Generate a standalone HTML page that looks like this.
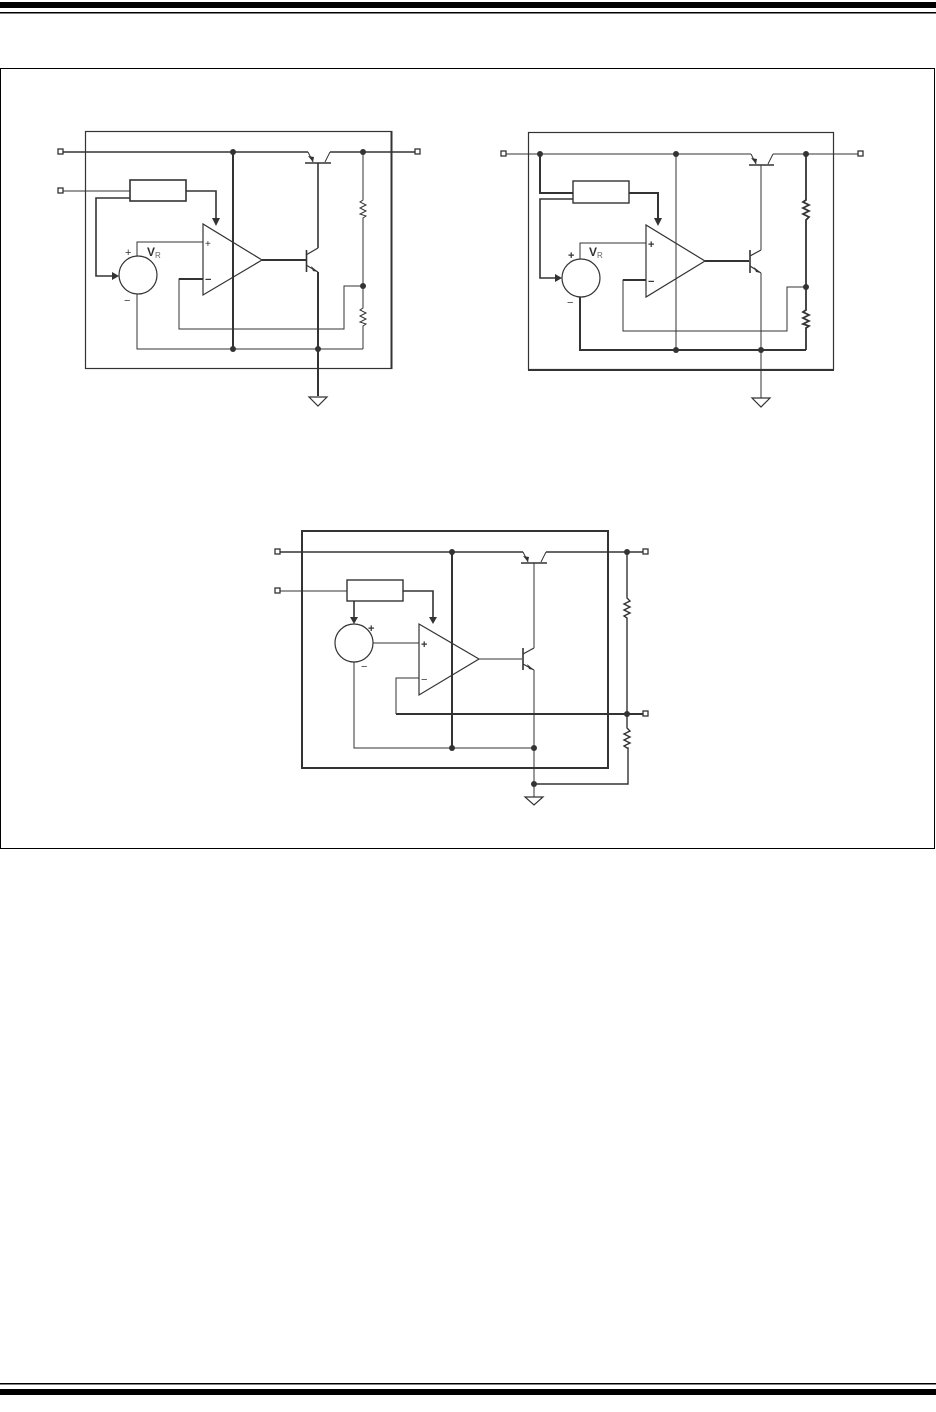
<!DOCTYPE html>
<html><head><meta charset="utf-8"><style>
html,body{margin:0;padding:0;background:#fff;}
svg{display:block;font-family:"Liberation Sans",sans-serif;}
</style></head><body>
<svg width="936" height="1412" viewBox="0 0 936 1412" xmlns="http://www.w3.org/2000/svg">
<rect x="0" y="2" width="936" height="6" fill="#000"/>
<rect x="0" y="12" width="936" height="1.5" fill="#000"/>
<rect x="0" y="1383" width="936" height="1.5" fill="#000"/>
<rect x="0" y="1389" width="936" height="6" fill="#000"/>
<rect x="0.5" y="68.5" width="934" height="780" fill="none" stroke="#000" stroke-width="1"/>

<g stroke="#333" fill="none" stroke-width="1">
<!-- ===== Circuit 1 ===== -->
<rect x="85.5" y="131.5" width="306" height="237" stroke-width="1.2"/>
<line x1="391.5" y1="131" x2="391.5" y2="369" stroke-width="2"/>
<line x1="63" y1="152" x2="308" y2="152" stroke-width="1.6"/>
<line x1="330" y1="152" x2="415" y2="152" stroke-width="1.6"/>
<line x1="308" y1="152" x2="313" y2="162"/>
<line x1="330" y1="152" x2="325" y2="162"/>
<line x1="305" y1="163" x2="331" y2="163" stroke-width="1.6"/>
<line x1="318" y1="163" x2="318" y2="248" stroke-width="1.6"/>
<line x1="63" y1="191" x2="130" y2="191"/>
<rect x="130" y="180" width="56" height="21" stroke-width="1.6"/>
<polyline points="186,191 216,191 216,220" stroke-width="1.6"/>
<polyline points="130,198 96,198 96,276 114,276" stroke-width="1.6"/>
<circle cx="138" cy="275" r="19" stroke-width="1.2"/>
<polygon points="203,224 203,295 262,260" stroke-width="1.2"/>
<polyline points="137,256 137,242 203,242"/>
<polyline points="203,279 179,279 179,329 344,329 344,286 363,286"/>
<line x1="179" y1="279" x2="203" y2="279" stroke-width="2"/>
<line x1="233" y1="152" x2="233" y2="349" stroke-width="2"/>
<polyline points="137,294 137,349 363,349"/>
<line x1="262" y1="260" x2="306" y2="260" stroke-width="2"/>
<line x1="306.5" y1="250" x2="306.5" y2="272" stroke-width="1.6"/>
<line x1="306" y1="255" x2="318" y2="248" stroke-width="1.2"/>
<line x1="306" y1="265" x2="318" y2="272" stroke-width="1.2"/>
<line x1="318" y1="272" x2="318" y2="396" stroke-width="2"/>
<polyline points="363,152 363,200 360,202 366,205 360,208 366,211 360,214 366,216 363,218 363,308 360,310 366,313 360,316 366,319 360,322 366,324 363,326 363,349"/>
<polygon points="309,397 327,397 318,406" stroke-width="1.2"/>

<!-- ===== Circuit 2 ===== -->
<rect x="528.5" y="132.5" width="305" height="237" stroke-width="1.2"/>
<line x1="528" y1="370" x2="834" y2="370" stroke-width="2"/>
<line x1="506" y1="154" x2="751" y2="154"/>
<line x1="773" y1="154" x2="858" y2="154"/>
<line x1="751" y1="154" x2="756" y2="164"/>
<line x1="773" y1="154" x2="768" y2="164"/>
<line x1="749" y1="165" x2="774" y2="165" stroke-width="1.4"/>
<line x1="761" y1="165" x2="761" y2="250"/>
<polyline points="540,154 540,193 573,193" stroke-width="2"/>
<polyline points="573,199 540,199 540,278 557,278" stroke-width="1.6"/>
<rect x="573" y="181" width="56" height="22" stroke-width="1.4"/>
<polyline points="629,193 658,193 658,221" stroke-width="2"/>
<circle cx="581" cy="278" r="19" stroke-width="1.2"/>
<polygon points="646,225 646,297 705,261" stroke-width="1.2"/>
<polyline points="580,259 580,243 646,243"/>
<polyline points="646,280 623,280 623,331 787,331 787,287 806,287"/>
<line x1="623" y1="280" x2="646" y2="280" stroke-width="2"/>
<line x1="676" y1="154" x2="676" y2="350"/>
<polyline points="580,297 580,350 806,350" stroke-width="2"/>
<line x1="705" y1="261" x2="749" y2="261" stroke-width="2"/>
<line x1="750" y1="250" x2="750" y2="273" stroke-width="1.6"/>
<line x1="750" y1="256" x2="761" y2="250" stroke-width="1.2"/>
<line x1="750" y1="266" x2="761" y2="273" stroke-width="1.2"/>
<line x1="761" y1="273" x2="761" y2="398"/>
<polyline points="806,154 806,200 803,202 809,205 803,208 809,211 803,214 809,217 806,220 806,310 803,312 809,315 803,318 809,321 803,324 809,326 806,328 806,350" stroke-width="1.8"/>
<polygon points="752,398 770,398 761,407" stroke-width="1.2"/>

<!-- ===== Circuit 3 ===== -->
<rect x="302" y="531" width="306" height="237" stroke-width="2"/>
<line x1="280" y1="552" x2="523" y2="552" stroke-width="1.6"/>
<line x1="546" y1="552" x2="643" y2="552" stroke-width="1.6"/>
<line x1="523" y1="552" x2="528" y2="562"/>
<line x1="546" y1="552" x2="541" y2="562"/>
<line x1="521" y1="563" x2="547" y2="563" stroke-width="1.4"/>
<line x1="534" y1="563" x2="534" y2="648"/>
<line x1="280" y1="591" x2="347" y2="591"/>
<rect x="347" y="580" width="56" height="21" stroke-width="1.4"/>
<line x1="354" y1="601" x2="354" y2="619" stroke-width="1.6"/>
<polyline points="403,591 433,591 433,620" stroke-width="1.6"/>
<circle cx="354" cy="643" r="19" stroke-width="1.2"/>
<polygon points="419,624 419,695 479,659" stroke-width="1.2"/>
<line x1="373" y1="643" x2="419" y2="643"/>
<polyline points="419,678 396,678 396,714"/>
<line x1="396" y1="714" x2="643" y2="714" stroke-width="2"/>
<line x1="452" y1="552" x2="452" y2="748" stroke-width="2"/>
<polyline points="354,662 354,748 534,748"/>
<line x1="479" y1="659" x2="522" y2="659"/>
<line x1="523" y1="648" x2="523" y2="670" stroke-width="1.6"/>
<line x1="523" y1="654" x2="534" y2="648" stroke-width="1.2"/>
<line x1="523" y1="664" x2="534" y2="670" stroke-width="1.2"/>
<line x1="534" y1="670" x2="534" y2="797"/>
<polyline points="534,784 628,784 628,748 627,748 624,746 630,743 624,740 630,737 624,734 630,731 627,728 627,618 624,616 630,613 624,610 630,607 624,604 630,601 627,598 627,552" stroke-width="1.4"/>
<polygon points="525,797 543,797 534,805" stroke-width="1.2"/>
</g>

<!-- terminals -->
<g fill="#fff" stroke="#333" stroke-width="1.3">
<rect x="58" y="149" width="5" height="5"/><rect x="415" y="149" width="5" height="5"/><rect x="58" y="188" width="5" height="5"/>
<rect x="501" y="151" width="5" height="5"/><rect x="858" y="151" width="5" height="5"/>
<rect x="275" y="549" width="5" height="5"/><rect x="643" y="549" width="5" height="5"/><rect x="275" y="588" width="5" height="5"/><rect x="643" y="711" width="5" height="5"/>
</g>
<!-- dots -->
<g fill="#333">
<circle cx="233" cy="152" r="3"/><circle cx="363" cy="152" r="3"/><circle cx="363" cy="286" r="3"/><circle cx="233" cy="349" r="3"/><circle cx="318" cy="349" r="3"/>
<circle cx="540" cy="154" r="3"/><circle cx="676" cy="154" r="3"/><circle cx="806" cy="154" r="3"/><circle cx="806" cy="287" r="3"/><circle cx="676" cy="350" r="3"/><circle cx="761" cy="350" r="3"/>
<circle cx="452" cy="552" r="3"/><circle cx="627" cy="552" r="3"/><circle cx="627" cy="714" r="3"/><circle cx="452" cy="748" r="3"/><circle cx="534" cy="748" r="3"/><circle cx="534" cy="784" r="3"/>
<!-- arrowheads -->
<polygon points="212,218 220,218 216,226"/><polygon points="112,272 119,276 112,280"/>
<polygon points="313,162 308,156 314,157"/>
<polygon points="318,272 311,266 313,271"/>
<polygon points="654,218 662,218 658,226"/><polygon points="555,274 562,278 555,282"/>
<polygon points="756,164 751,158 757,159"/><polygon points="761,273 754,267 756,272"/>
<polygon points="350,617 358,617 354,624"/><polygon points="429,617 437,617 433,624"/>
<polygon points="528,562 523,556 529,557"/><polygon points="534,670 527,664 529,669"/>
</g>
<g fill="#333" font-size="11">
<text x="125" y="256">+</text><text x="124" y="304">−</text>
<text x="147" y="256" font-weight="bold" font-size="12">V</text><text x="155" y="258" font-size="8" fill="#666">R</text>
<text x="205" y="247" font-size="10">+</text><text x="205" y="283" font-weight="bold" font-size="11">−</text>
<text x="568" y="259" font-weight="bold">+</text><text x="567" y="306">−</text>
<text x="589" y="256" font-weight="bold" font-size="12">V</text><text x="597" y="258" font-size="8" fill="#666">R</text>
<text x="648" y="248" font-weight="bold">+</text><text x="648" y="285" font-weight="bold">−</text>
<text x="368" y="632" font-weight="bold">+</text><text x="361" y="670">−</text>
<text x="421" y="648" font-weight="bold">+</text><text x="421" y="683">−</text>
</g>
</svg>
</body></html>
